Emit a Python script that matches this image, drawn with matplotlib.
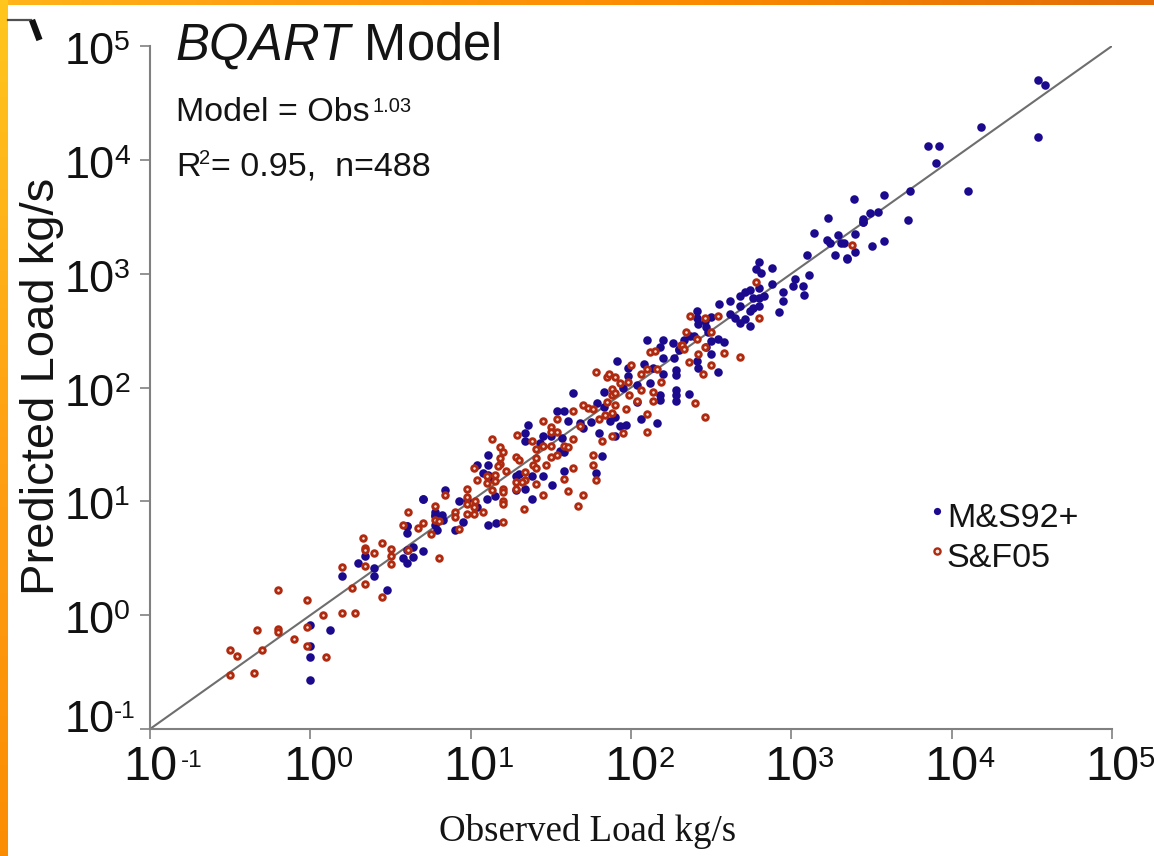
import numpy as np
import matplotlib
matplotlib.use('Agg')
import matplotlib.pyplot as plt
from matplotlib.colors import LinearSegmentedColormap
from matplotlib.lines import Line2D
from matplotlib.transforms import ScaledTranslation

# values, as log10(kg/s)
ms_obs = [0.00, 0.00, 0.00, 0.00, 0.12, 0.20, 0.30, 0.34, 0.40, 0.40, 0.48, 0.60, 0.60, 0.70, 0.64, 0.70, 0.60, 0.58, 0.64, 0.60,
          0.78, 0.78, 0.79, 0.60, 0.70, 0.84, 0.78, 0.80, 0.82, 0.78, 0.83, 0.90, 0.95, 0.93, 0.98, 1.04, 1.04, 1.11, 1.11, 1.08,
          1.11, 1.14, 1.15, 1.10, 1.11, 1.16, 1.28, 1.30, 1.28, 1.34, 1.38, 1.38, 1.45, 1.51, 1.36, 1.34, 1.34, 1.43, 1.45, 1.50,
          1.57, 1.56, 1.58, 1.58, 1.54, 1.58, 1.61, 1.64, 1.68, 1.70, 1.75, 1.80, 1.82, 1.78, 1.79, 1.83, 1.83, 1.87, 1.90, 1.93,
          1.97, 1.90, 1.91, 1.98, 1.98, 1.95, 2.04, 2.06, 2.16, 2.08, 2.10, 2.20, 2.18, 2.26, 2.30, 2.20, 2.27, 2.14, 2.20, 2.28,
          2.28, 2.12, 2.18, 2.18, 2.28, 2.28, 2.28, 2.04, 2.36, 2.33, 2.37, 2.30, 2.41, 2.41, 2.42, 2.46, 2.47, 2.48, 2.50, 2.55,
          2.62, 2.68, 2.71, 2.74, 2.62, 2.65, 2.68, 2.71, 2.74, 2.74, 2.68, 2.76, 2.80, 2.83, 2.76, 2.80, 2.80, 2.80, 2.78, 2.81,
          2.88, 2.88, 2.92, 2.95, 2.95, 3.01, 3.02, 3.07, 3.08, 3.11, 3.10, 2.50, 2.54, 2.58, 2.50, 2.41, 2.42, 2.54, 2.39, 2.47,
          3.14, 3.22, 3.24, 3.29, 3.31, 3.33, 3.40, 3.40, 3.27, 3.35, 3.35, 3.50, 3.58, 3.45, 4.54, 4.58, 4.18, 4.54, 3.85, 3.92,
          3.90, 3.74, 4.10, 3.58, 3.39, 3.73, 3.54, 3.49, 3.45, 3.45, 3.23]
ms_pred = [-0.57, -0.37, -0.27, -0.09, -0.13, 0.34, 0.46, 0.52, 0.41, 0.34, 0.22, 0.78, 0.72, 1.02, 0.60, 0.56, 0.57, 0.50, 0.51, 0.46,
           0.91, 0.87, 0.75, 0.78, 1.02, 1.10, 0.88, 0.86, 0.88, 0.79, 0.84, 0.75, 0.82, 1.00, 1.01, 1.32, 0.95, 1.41, 1.32, 1.25,
           1.23, 1.20, 1.05, 1.02, 0.79, 0.81, 1.22, 1.24, 1.10, 1.11, 1.02, 1.22, 1.22, 1.14, 1.67, 1.60, 1.53, 1.51, 1.57, 1.57,
           1.56, 1.44, 1.43, 1.27, 1.79, 1.79, 1.71, 1.95, 1.69, 1.64, 1.70, 1.60, 1.40, 1.25, 1.86, 1.83, 1.96, 1.71, 1.74, 1.66,
           1.67, 1.57, 2.23, 2.17, 2.10, 2.00, 2.02, 1.72, 1.69, 2.21, 2.42, 2.42, 2.36, 2.39, 2.33, 2.26, 2.26, 2.17, 2.12, 2.15,
           2.11, 2.04, 1.93, 1.89, 1.98, 1.93, 1.88, 1.87, 1.94, 2.42, 2.45, 2.34, 2.67, 2.61, 2.56, 2.58, 2.53, 2.49, 2.62, 2.73,
           2.76, 2.80, 2.84, 2.86, 2.65, 2.61, 2.57, 2.60, 2.67, 2.54, 2.72, 2.79, 2.79, 2.80, 2.70, 2.72, 2.87, 3.10, 3.04, 3.01,
           3.05, 2.91, 2.66, 2.84, 2.76, 2.89, 2.95, 2.89, 2.81, 2.99, 3.16, 2.41, 2.43, 2.40, 2.29, 2.23, 2.17, 2.14, 2.45, 2.36,
           3.36, 3.30, 3.27, 3.34, 3.27, 3.27, 3.35, 3.19, 3.16, 3.14, 3.13, 3.24, 3.29, 3.45, 4.70, 4.66, 4.29, 4.20, 4.12, 4.12,
           3.97, 3.73, 3.73, 3.69, 3.66, 3.47, 3.54, 3.53, 3.48, 3.45, 3.49]

sf_obs = [-0.50, -0.46, -0.50, -0.35, -0.30, -0.33, -0.20, -0.20, -0.10, -0.20, -0.02, -0.02, -0.02, 0.08, 0.10, 0.20, 0.28, 0.26, 0.20, 0.34,
          0.34, 0.45, 0.33, 0.34, 0.34, 0.40, 0.45, 0.50, 0.50, 0.50, 0.58, 0.61, 0.61, 0.67, 0.70, 0.75, 0.78, 0.78, 0.80, 0.84,
          0.80, 0.90, 0.93, 0.90, 0.98, 0.98, 0.98, 1.02, 1.04, 1.03, 1.02, 0.98, 1.02, 1.08, 1.13, 1.18, 1.20, 1.18, 1.18, 1.17,
          1.22, 1.15, 1.10, 1.10, 1.15, 1.13, 1.20, 1.20, 1.20, 1.20, 1.20, 1.29, 1.28, 1.30, 1.38, 1.41, 1.41, 1.39, 1.41, 1.34,
          1.34, 1.28, 1.28, 1.32, 1.41, 1.45, 1.33, 1.45, 1.54, 1.50, 1.50, 1.54, 1.45, 1.50, 1.50, 1.47, 1.54, 1.58, 1.61, 1.64,
          1.68, 1.64, 1.70, 1.73, 1.76, 1.80, 1.84, 1.88, 1.90, 1.85, 1.88, 1.88, 1.90, 1.78, 1.85, 1.86, 1.90, 1.93, 1.98, 2.00,
          2.06, 2.06, 1.99, 2.04, 1.97, 2.10, 2.10, 1.95, 1.88, 1.82, 1.76, 1.76, 1.64, 1.58, 1.78, 1.61, 1.70, 1.67, 2.12, 2.15,
          2.10, 2.16, 2.19, 2.14, 2.14, 2.31, 2.37, 2.46, 2.54, 2.50, 2.34, 2.41, 2.32, 2.33, 2.46, 2.42, 2.58, 2.68, 2.36, 2.50,
          2.45, 2.78, 2.80, 3.38, 2.40, 2.46]
sf_pred = [-0.53, -0.36, -0.31, -0.51, -0.31, -0.13, -0.12, -0.15, -0.21, 0.22, 0.13, -0.10, -0.27, 0.00, -0.37, 0.02, 0.02, 0.24, 0.42, 0.43,
           0.27, 0.16, 0.68, 0.59, 0.57, 0.55, 0.63, 0.58, 0.52, 0.45, 0.79, 0.91, 0.57, 0.77, 0.81, 0.71, 0.96, 0.84, 0.50, 1.06,
           0.83, 0.91, 0.76, 0.86, 1.11, 1.04, 0.98, 1.29, 1.19, 1.00, 0.95, 0.89, 0.89, 0.91, 1.55, 1.48, 1.43, 1.38, 1.33, 1.31,
           1.27, 1.23, 1.22, 1.16, 1.18, 1.10, 1.11, 1.08, 1.00, 0.98, 0.82, 1.58, 1.39, 1.36, 1.53, 1.46, 1.38, 1.32, 1.29, 1.26,
           1.19, 1.17, 1.11, 1.17, 1.15, 1.06, 0.93, 1.71, 1.72, 1.65, 1.61, 1.61, 1.49, 1.49, 1.39, 1.32, 1.41, 1.49, 1.48, 1.55,
           1.66, 1.79, 1.85, 1.82, 1.81, 1.72, 1.76, 1.78, 1.85, 1.87, 1.93, 1.99, 1.95, 2.14, 2.09, 2.12, 2.09, 2.04, 2.05, 2.20,
           2.12, 1.98, 1.93, 1.88, 1.81, 1.77, 1.61, 1.60, 1.57, 1.53, 1.41, 1.32, 1.29, 1.20, 1.19, 1.09, 1.06, 0.96, 2.31, 2.32,
           2.16, 2.16, 2.05, 1.96, 1.88, 2.37, 2.63, 2.61, 2.63, 2.49, 2.49, 2.43, 2.37, 2.34, 2.36, 2.29, 2.30, 2.27, 2.22, 2.20,
           2.12, 2.93, 2.61, 3.25, 1.86, 1.74]

decades = [-1, 0, 1, 2, 3, 4, 5]
BLUE = '#1c0a8e'
RED = '#b02a10'
RED_FILL = '#f6e6de'
INK = '#141414'

plt.rcParams['font.family'] = ['Liberation Sans', 'DejaVu Sans']
plt.rcParams['mathtext.fontset'] = 'custom'
plt.rcParams['mathtext.rm'] = 'Liberation Sans'
plt.rcParams['mathtext.it'] = 'Liberation Sans:italic'
plt.rcParams['mathtext.default'] = 'regular'

W, H = 1154, 856
fig = plt.figure(figsize=(W / 100, H / 100), dpi=100, facecolor='white')

# orange slide border, left and top
frame_cmap = LinearSegmentedColormap.from_list('frame', ['#ffc61e', '#ff9f12', '#fb8a00', '#e26c08'])
top = fig.add_axes([0, 1 - 5 / H, 1, 5 / H])
top.imshow(np.linspace(0.15, 1, 300).reshape(1, -1), cmap=frame_cmap, vmin=0, vmax=1, aspect='auto')
top.axis('off')
left = fig.add_axes([0, 0, 8 / W, 1])
left.imshow(np.linspace(0, 0.62, 300).reshape(-1, 1), cmap=frame_cmap, vmin=0, vmax=1, aspect='auto')
left.axis('off')

ax = fig.add_axes([150 / W, (H - 729) / H, 962 / W, 683 / H])
ax.set_xscale('log')
ax.set_yscale('log')
ax.set_xlim(1e-1, 1e5)
ax.set_ylim(1e-1, 1e5)
ax.patch.set_alpha(0)

ax.plot([1e-1, 1e5], [1e-1, 1e5], color='#6e6e6e', lw=1.5, zorder=2)
ax.scatter(10 ** np.array(ms_obs), 10 ** np.array(ms_pred), s=38, color=BLUE, linewidths=0, zorder=3, clip_on=False)
ax.scatter(10 ** np.array(sf_obs), 10 ** np.array(sf_pred), s=16, facecolor=RED_FILL, edgecolor=RED,
           linewidths=2.1, zorder=4, clip_on=False)

for s in ['top', 'right']:
    ax.spines[s].set_visible(False)
for s in ['left', 'bottom']:
    ax.spines[s].set_color('#808080')
    ax.spines[s].set_linewidth(1.5)

ticks = [10.0 ** d for d in decades]
ax.set_xticks(ticks)
ax.set_xticklabels(['10'] * len(ticks))
ax.set_yticks(ticks)
ax.set_yticklabels(['10'] * len(ticks))
ax.minorticks_off()
ax.tick_params(axis='both', length=7.5, width=1.2, color='#808080', labelcolor='#111111')
ax.tick_params(axis='x', labelsize=35, pad=4)
ax.tick_params(axis='y', labelsize=32.5, pad=18)
# y labels sit a little under their ticks, except the lowest which is lifted clear of the x axis
for d, lab in zip(decades, ax.get_yticklabels()):
    dy = 13 if d == -1 else -2
    lab.set_transform(lab.get_transform() + ScaledTranslation(0, dy / 100, fig.dpi_scale_trans))

# exponents as their own text, smaller and lower than mathtext would put them
for d, t in zip(decades, ticks):
    ysize = 17.5 if d < 0 else 20.5
    xsize = 17.5 if d < 0 else 21
    yoff = (-15, 11) if d == -1 else (-20, -4)
    ax.annotate(str(d), xy=(0, t), xycoords=ax.get_yaxis_transform(), xytext=yoff, textcoords='offset pixels',
                fontsize=ysize, ha='right', va='baseline', color='#111111', annotation_clip=False)
    ax.annotate(str(d), xy=(t, 0), xycoords=ax.get_xaxis_transform(), xytext=(31 if d < 0 else 27, -38),
                textcoords='offset pixels', fontsize=xsize, ha='left', va='baseline', color='#111111',
                annotation_clip=False)


def put(x, y, s, **kw):
    fig.text(x / W, 1 - y / H, s, color=INK, **kw)


put(42, 386, 'Predicted Load kg/s', fontsize=34, rotation=90, ha='center', va='center')
put(588, 841, 'Observed Load kg/s', fontsize=26.6, ha='center', va='baseline',
    family=['Liberation Serif', 'DejaVu Serif'])
put(175, 60, r'$\mathit{BQART}$ Model', fontsize=36.5, ha='left', va='baseline')
put(176, 121, 'Model = Obs', fontsize=24.5, ha='left', va='baseline')
put(372, 112, '1.03', fontsize=14.5, ha='left', va='baseline')
put(176, 176, 'R', fontsize=24.5, ha='left', va='baseline')
put(199, 164, '2', fontsize=14.5, ha='left', va='baseline')
put(211, 176, '= 0.95,  n=488', fontsize=24.5, ha='left', va='baseline')

# legend, placed by hand inside the plot
put(947, 527, 'M&S92+', fontsize=24.5, ha='left', va='baseline')
put(946, 567, 'S&F05', fontsize=24.5, ha='left', va='baseline')
fig.add_artist(Line2D([937 / W], [1 - 511 / H], ls='none', marker='o', ms=5.2, mfc=BLUE, mec='none'))
fig.add_artist(Line2D([937 / W], [1 - 551 / H], ls='none', marker='o', ms=4.4, mfc=RED_FILL, mec=RED, mew=1.7))

# stray corner mark left over from the slide
fig.add_artist(Line2D([8 / W, 31 / W], [1 - 20 / H, 1 - 20 / H], color='#505050', lw=1.6))
fig.add_artist(Line2D([32 / W, 39.5 / W], [1 - 20 / H, 1 - 40 / H], color='#111111', lw=4.6, solid_capstyle='butt'))

fig.savefig('out.png', dpi=100)
